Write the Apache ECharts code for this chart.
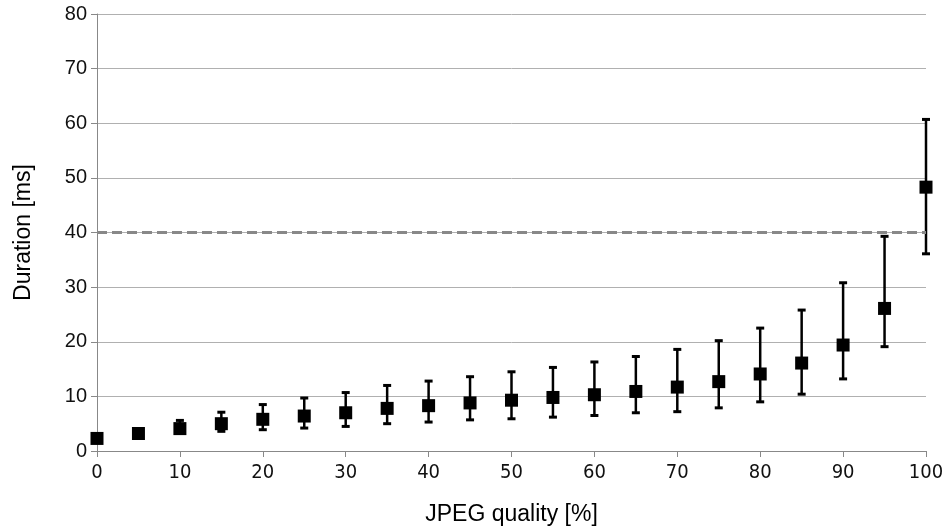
<!DOCTYPE html>
<html><head><meta charset="utf-8">
<script src="https://cdn.jsdelivr.net/npm/echarts@6/dist/echarts.min.js"></script>
<style>html,body{margin:0;padding:0;background:#fff}#c{width:947px;height:531px}</style>
</head><body><div id="c"></div>
<script>
const quality = [0,5,10,15,20,25,30,35,40,45,50,55,60,65,70,75,80,85,90,95,100];
const meanMs  = [2.3,3.2,4.1,5.0,5.8,6.4,7.0,7.8,8.3,8.8,9.3,9.8,10.3,10.9,11.7,12.7,14.1,16.1,19.4,26.1,48.3];
const lowMs   = [2.0,2.8,3.3,3.6,3.9,4.2,4.5,5.0,5.3,5.7,5.9,6.2,6.5,7.0,7.2,7.9,9.0,10.4,13.2,19.1,36.1];
const highMs  = [2.6,3.7,5.6,7.1,8.5,9.7,10.7,12.0,12.8,13.6,14.5,15.3,16.3,17.3,18.6,20.2,22.5,25.8,30.8,39.3,60.7];
const threshold = 40;

const chart = echarts.init(document.getElementById('c'));
const pts = quality.map((q,i)=>[q, meanMs[i]]);
const errs = quality.map((q,i)=>[q, lowMs[i], highMs[i]]);
const font = '"Liberation Sans", Arial, sans-serif';
chart.setOption({
  animation:false,
  grid:{left:97,right:21,top:14,bottom:79},
  xAxis:{type:'value',min:0,max:100,interval:10,
    name:'JPEG quality [%]',nameLocation:'middle',nameGap:52,
    nameTextStyle:{fontFamily:font,fontSize:23,color:'#000'},
    axisLine:{lineStyle:{color:'#888',width:1}},
    axisTick:{show:true,length:6,lineStyle:{color:'#888'}},
    axisLabel:{fontFamily:'"Liberation Sans Narrow", "DejaVu Sans Condensed", sans-serif',fontSize:20,color:'#111',margin:12},
    splitLine:{show:false}},
  yAxis:{type:'value',min:0,max:80,interval:10,
    name:'Duration [ms]',nameLocation:'middle',nameGap:62,nameRotate:90,
    nameTextStyle:{fontFamily:font,fontSize:23,color:'#000'},
    axisLine:{show:true,lineStyle:{color:'#888',width:1}},
    axisTick:{show:true,length:6,lineStyle:{color:'#888'}},
    axisLabel:{fontFamily:font,fontSize:20,color:'#111',margin:10},
    splitLine:{lineStyle:{color:'#b0b0b0',width:1}}},
  series:[
    {type:'custom',data:errs,z:2,
      renderItem:function(params,api){
        const x=api.value(0);
        const lo=api.coord([x,api.value(1)]);
        const hi=api.coord([x,api.value(2)]);
        const w=4;
        return {type:'group',children:[
          {type:'line',shape:{x1:lo[0],y1:lo[1],x2:hi[0],y2:hi[1]},style:{stroke:'#000',lineWidth:2.5}},
          {type:'line',shape:{x1:lo[0]-w,y1:lo[1],x2:lo[0]+w,y2:lo[1]},style:{stroke:'#000',lineWidth:3}},
          {type:'line',shape:{x1:hi[0]-w,y1:hi[1],x2:hi[0]+w,y2:hi[1]},style:{stroke:'#000',lineWidth:3}}
        ]};
      }},
    {type:'scatter',data:pts,symbol:'rect',symbolSize:13,z:3,
      itemStyle:{color:'#000',opacity:1},
      emphasis:{disabled:true},
      markLine:{silent:true,symbol:'none',label:{show:false},
        lineStyle:{color:'#888',type:[10,5],width:3,opacity:1},
        data:[{yAxis:threshold}]}}
  ]
});
</script></body></html>
